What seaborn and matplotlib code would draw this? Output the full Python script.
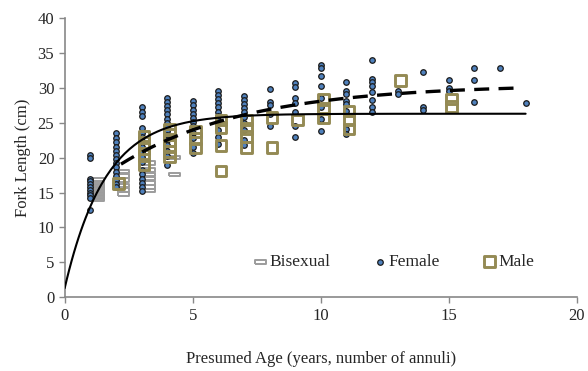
import matplotlib
matplotlib.use("Agg")
import matplotlib.pyplot as plt
import numpy as np
import pandas as pd
import seaborn as sns

# Fork length (cm) by presumed age
female_ages = [1, 2, 3, 4, 5, 6, 7, 8, 9, 10, 11, 12, 13, 14, 15, 16, 17, 18]
female_lengths = [
    [20.4, 20.0, 17.0, 16.6, 16.2, 15.8, 15.4, 15.0, 14.6, 14.2, 12.5],
    [23.5, 22.8, 22.2, 21.6, 21.0, 20.4, 19.8, 19.2, 18.6, 18.0, 17.4, 16.8, 16.2, 15.8],
    [27.2, 26.6, 26.0, 24.3, 23.6, 22.9, 22.2, 21.5, 20.8, 20.1, 19.4, 18.2, 17.6, 17.0, 16.4, 15.8, 15.2],
    [28.6, 28.0, 27.4, 26.8, 26.2, 25.6, 25.0, 24.4, 23.8, 23.2, 22.5, 21.8, 21.0, 20.3, 19.0],
    [28.1, 27.5, 26.9, 26.3, 25.7, 25.1, 24.5, 23.5, 22.8, 21.5, 20.6],
    [29.6, 29.0, 28.4, 27.8, 27.2, 26.6, 26.0, 25.3, 24.0, 23.0, 22.0],
    [28.9, 28.3, 27.7, 27.1, 26.5, 25.9, 25.0, 24.0, 22.6, 21.8],
    [29.8, 28.0, 27.6, 26.3, 24.5],
    [30.7, 30.2, 28.6, 27.8, 26.6, 24.5, 23.0],
    [33.3, 32.9, 31.7, 30.3, 28.6, 27.2, 25.5, 23.8],
    [30.8, 29.6, 29.1, 28.1, 27.7, 26.7, 24.1, 23.4],
    [34.0, 31.3, 30.8, 30.3, 29.4, 28.2, 27.2, 26.5],
    [29.6, 29.1],
    [32.3, 27.3, 26.8],
    [31.1, 30.0, 29.5],
    [32.8, 31.1, 28.0],
    [32.8],
    [27.9],
]

male_ages = [2, 3, 4, 5, 6, 7, 8, 9, 10, 11, 13, 15]
male_lengths = [
    [16.3],
    [23.1, 22.2, 21.3, 20.3, 19.0],
    [24.1, 23.3, 22.5, 21.7, 20.9, 20.1],
    [23.8, 22.8, 21.4],
    [25.4, 24.3, 21.7, 18.1],
    [25.4, 24.2, 23.0, 21.5],
    [25.8, 21.5],
    [25.4],
    [28.3, 27.0, 25.7],
    [26.7, 25.5, 24.1],
    [31.1],
    [28.4, 27.3],
]

bisexual_ages = [1, 2, 3, 4]
bisexual_lengths = [
    [16.8, 16.4, 16.0, 15.6, 15.2, 14.8, 14.4, 14.0],
    [18.0, 17.4, 16.8, 16.0, 15.4, 14.8],
    [19.2, 18.2, 17.6, 17.0, 16.4, 15.8, 15.3],
    [20.0, 17.6],
]

# von Bertalanffy growth curves (Linf, K, t0) and the age range they cover
vb_all = (26.3, 0.63, -0.08)
vb_all_range = (0, 18)
vb_female = (30.5, 0.20, -2.71)
vb_female_range = (2.2, 17.8)


def to_frame(ages, lengths, shift):
    rows = [(a + shift, v) for a, vals in zip(ages, lengths) for v in vals]
    return pd.DataFrame(rows, columns=["age", "length"])


def vb_frame(params, rng):
    linf, k, t0 = params
    t = np.linspace(rng[0], rng[1], 200)
    return pd.DataFrame({"age": t, "length": linf * (1 - np.exp(-k * (t - t0)))})


df_f = to_frame(female_ages, female_lengths, 0.0)
df_m = to_frame(male_ages, male_lengths, 0.1)
df_b = to_frame(bisexual_ages, bisexual_lengths, 0.3)

sns.set_style("ticks")
plt.rcParams["font.family"] = ["Liberation Serif", "DejaVu Serif"]

fig, ax = plt.subplots(figsize=(5.88, 3.71), dpi=100)
fig.subplots_adjust(left=0.11, right=0.981, top=0.951, bottom=0.199)

bar_marker = [(-1, -0.32), (1, -0.32), (1, 0.32), (-1, 0.32), (-1, -0.32)]

sns.scatterplot(data=df_b, x="age", y="length", ax=ax, marker=bar_marker, s=64,
                facecolor="none", edgecolor="#9c9c9c", linewidth=1.4,
                label="Bisexual", zorder=2)
sns.scatterplot(data=df_f, x="age", y="length", ax=ax, marker="o", s=16,
                color="#4f81bd", edgecolor="#1a1a1a", linewidth=0.9,
                label="Female", zorder=3)
sns.scatterplot(data=df_m, x="age", y="length", ax=ax, marker="s", s=60,
                facecolor="none", edgecolor="#948a54", linewidth=2.1,
                label="Male", zorder=4)

sns.lineplot(data=vb_frame(vb_all, vb_all_range), x="age", y="length", ax=ax,
             color="black", linewidth=1.5, zorder=5)
sns.lineplot(data=vb_frame(vb_female, vb_female_range), x="age", y="length", ax=ax,
             color="black", linewidth=2.4, dashes=False, linestyle=(0, (4.5, 2.8)),
             zorder=6)

ax.set_xlim(0, 20)
ax.set_ylim(0, 40)
ax.set_xticks([0, 5, 10, 15, 20])
ax.set_yticks(range(0, 41, 5))
ax.tick_params(labelsize=12, color="#888888", length=4, width=1)
for side in ["left", "bottom"]:
    ax.spines[side].set_color("#888888")
    ax.spines[side].set_linewidth(1.2)
sns.despine(ax=ax)

ax.set_xlabel("Presumed Age (years, number of annuli)", fontsize=12, labelpad=20)
ax.set_ylabel("Fork Length (cm)", fontsize=12, labelpad=5)

ax.legend(loc="center", bbox_to_anchor=(0.642, 0.125), ncol=3, frameon=False,
          fontsize=12.5, handletextpad=0.05, columnspacing=2.4, handlelength=0.9,
          borderaxespad=0)

fig.savefig("out.png", dpi=100)
